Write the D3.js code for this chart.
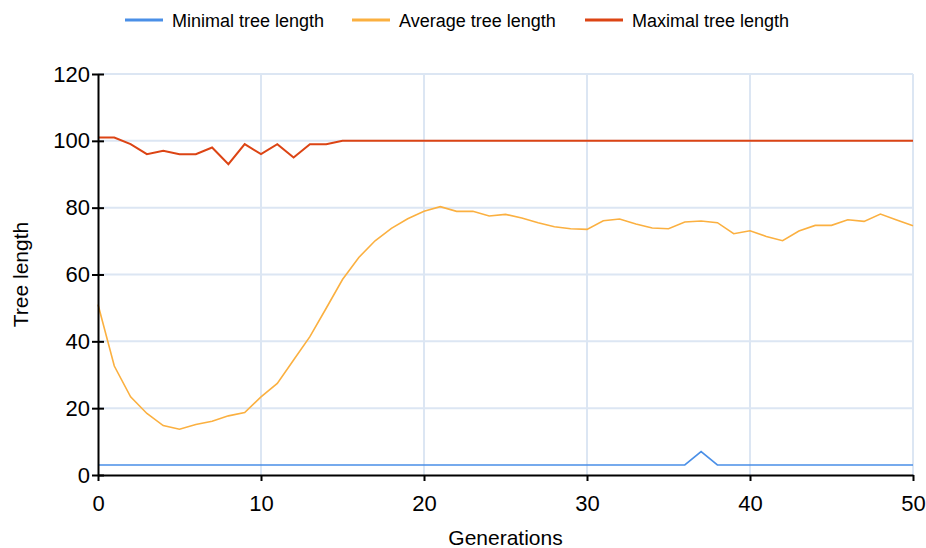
<!DOCTYPE html>
<html>
<head>
<meta charset="utf-8">
<script src="https://cdn.jsdelivr.net/npm/d3@7"></script>
<style>
body { margin: 0; background: #fff; }
svg { font-family: "Liberation Sans", Arial, sans-serif; }
</style>
</head>
<body>
<svg id="chart" width="926" height="548"></svg>
<script>
// data
const generations = d3.range(0, 51);
const minLength = [3,3,3,3,3,3,3,3,3,3, 3,3,3,3,3,3,3,3,3,3, 3,3,3,3,3,3,3,3,3,3,
  3,3,3,3,3,3,3,7,3,3, 3,3,3,3,3,3,3,3,3,3, 3];
const avgLength = [51,32.6,23.4,18.4,14.8,13.7,15.1,16.1,17.7,18.7,
  23.4,27.4,34.4,41.4,49.9,58.5,65.1,70.1,73.8,76.7,
  78.9,80.3,78.9,78.9,77.5,78.0,76.9,75.5,74.3,73.7,
  73.5,76.1,76.6,75.1,73.9,73.7,75.7,76.0,75.5,72.2,
  73.1,71.4,70.1,73.0,74.7,74.7,76.4,75.9,78.1,76.3,74.6];
const maxLength = [101,101,99,96,97,96,96,98,93,99,
  96,99,95,99,99,100,100,100,100,100,
  100,100,100,100,100,100,100,100,100,100,
  100,100,100,100,100,100,100,100,100,100,
  100,100,100,100,100,100,100,100,100,100,100];
const xTicks = [0, 10, 20, 30, 40, 50];
const yTicks = [0, 20, 40, 60, 80, 100, 120];
const seriesNames = ["Minimal tree length", "Average tree length", "Maximal tree length"];
const seriesColors = ["#4a8fe7", "#fbb040", "#dc4414"];

const margin = { top: 74, right: 13, bottom: 73, left: 98 };
const width = 926, height = 548;
const innerWidth = width - margin.left - margin.right;
const innerHeight = height - margin.top - margin.bottom;

const svg = d3.select("#chart");
const g = svg.append("g")
  .attr("transform", `translate(${margin.left}, ${margin.top})`);

const x = d3.scaleLinear().domain([0, 50]).range([0, innerWidth]);
const y = d3.scaleLinear().domain([0, 120]).range([innerHeight, 0]);

// grid
g.append("g")
  .selectAll("line")
  .data(xTicks.slice(1))
  .join("line")
  .attr("x1", d => x(d)).attr("x2", d => x(d))
  .attr("y1", 0).attr("y2", innerHeight)
  .attr("stroke", "#dce6f3").attr("stroke-width", 2);
g.append("g")
  .selectAll("line")
  .data(yTicks.slice(1))
  .join("line")
  .attr("x1", 0).attr("x2", innerWidth)
  .attr("y1", d => y(d)).attr("y2", d => y(d))
  .attr("stroke", "#dce6f3").attr("stroke-width", 2);

// lines
const series = [minLength, avgLength, maxLength];
const line = d3.line()
  .x((d, i) => x(generations[i]))
  .y(d => y(d));

series.forEach((s, i) => {
  g.append("path")
    .datum(s)
    .attr("fill", "none")
    .attr("stroke", seriesColors[i])
    .attr("stroke-width", i == 2 ? 2 : 1.6)
    .attr("d", line);
});

// axes
const xAxis = d3.axisBottom(x)
  .tickValues(xTicks)
  .tickSizeInner(6)
  .tickSizeOuter(0)
  .tickPadding(14);
const yAxis = d3.axisLeft(y)
  .tickValues(yTicks)
  .tickSizeInner(6)
  .tickSizeOuter(0)
  .tickPadding(2);

const xg = g.append("g")
  .attr("transform", `translate(0, ${innerHeight})`)
  .call(xAxis);
const yg = g.append("g").call(yAxis);

[xg, yg].forEach(a => {
  a.select(".domain").attr("stroke", "#000").attr("stroke-width", 2);
  a.selectAll(".tick line").attr("stroke", "#000").attr("stroke-width", 2);
  a.selectAll(".tick text").attr("fill", "#000").style("font-size", "22px");
});
// y ticks cross the axis
yg.selectAll(".tick line").attr("x1", 6).attr("x2", -6);

// axis titles
svg.append("text")
  .attr("x", margin.left + innerWidth / 2)
  .attr("y", 545)
  .attr("text-anchor", "middle")
  .style("font-size", "21px")
  .text("Generations");
svg.append("text")
  .attr("transform", `translate(28, ${margin.top + innerHeight / 2}) rotate(-90)`)
  .attr("text-anchor", "middle")
  .style("font-size", "21px")
  .text("Tree length");

// legend
const legendX = [125, 352, 585];
const legend = svg.append("g");
seriesNames.forEach((name, i) => {
  legend.append("line")
    .attr("x1", legendX[i]).attr("x2", legendX[i] + 38)
    .attr("y1", 20).attr("y2", 20)
    .attr("stroke", seriesColors[i]).attr("stroke-width", 3);
  legend.append("text")
    .attr("x", legendX[i] + 47)
    .attr("y", 27)
    .style("font-size", "18px")
    .text(name);
});
</script>
</body>
</html>
